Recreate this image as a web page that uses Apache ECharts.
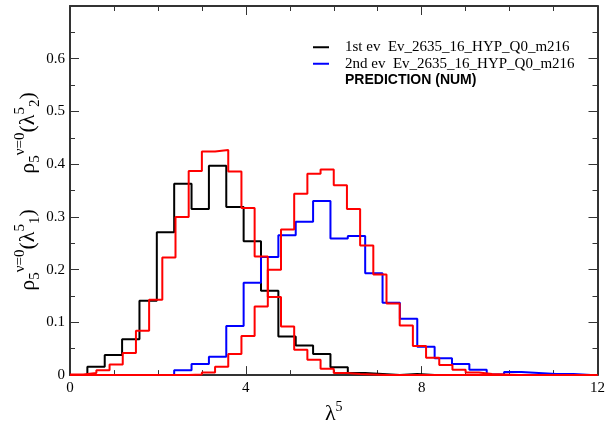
<!DOCTYPE html>
<html>
<head>
<meta charset="utf-8">
<script src="https://cdn.jsdelivr.net/npm/echarts@6/dist/echarts.min.js"></script>
<style>
  html, body { margin: 0; padding: 0; background: #fff; }
  #chart { width: 608px; height: 430px; }
</style>
</head>
<body>
<div id="chart"></div>
<script>
// histogram bin widths (lambda^5 units)
var evBin = 0.395;
var predBin = 0.3;

// 1st eigenvalue, Ev_2635_16_HYP_Q0_m216
var ev1 = [0, 0.016, 0.038, 0.068, 0.141, 0.271, 0.363, 0.315, 0.397, 0.319,
           0.254, 0.160, 0.073, 0.056, 0.040, 0.015, 0.004, 0.002, 0, 0.002,
           0, 0, 0, 0, 0, 0, 0, 0, 0, 0];
// 2nd eigenvalue
var ev2 = [0, 0, 0, 0, 0, 0, 0.009, 0.021, 0.035, 0.093,
           0.175, 0.224, 0.265, 0.291, 0.330, 0.259, 0.264, 0.193, 0.137, 0.107,
           0.054, 0.032, 0.021, 0.010, 0.001, 0.006, 0.004, 0.002, 0.002, 0];
// prediction (num), 1st and 2nd
var pred1 = [0.001, 0.004, 0.009, 0.020, 0.042, 0.084, 0.143, 0.223, 0.300, 0.387,
             0.424, 0.427, 0.386, 0.317, 0.225, 0.148, 0.092, 0.048, 0.029, 0.012,
             0.004, 0.002, 0.001, 0, 0, 0, 0, 0, 0, 0,
             0, 0, 0, 0, 0, 0, 0, 0, 0, 0];
var pred2 = [0, 0, 0, 0, 0, 0, 0, 0, 0, 0.001,
             0.005, 0.016, 0.040, 0.074, 0.130, 0.200, 0.276, 0.344, 0.382, 0.390,
             0.360, 0.315, 0.246, 0.191, 0.136, 0.094, 0.055, 0.033, 0.019, 0.010,
             0.005, 0.002, 0.001, 0, 0, 0, 0, 0, 0, 0];

var name1 = "1st ev  Ev_2635_16_HYP_Q0_m216";
var name2 = "2nd ev  Ev_2635_16_HYP_Q0_m216";
var namePred = "PREDICTION (NUM)";

var serif = "Liberation Serif";

// bin values -> step points (left edges + closing right edge)
function steps(vals, w) {
  var pts = [];
  for (var i = 0; i < vals.length; i++) pts.push([i * w, vals[i]]);
  pts.push([vals.length * w, vals[vals.length - 1]]);
  return pts;
}

function histo(name, vals, w, color) {
  return {
    name: name,
    type: "line",
    step: "end",
    symbol: "none",
    data: steps(vals, w),
    lineStyle: { color: color, width: 2 },
    itemStyle: { color: color }
  };
}

var xBase = {
  min: 0, max: 12, interval: 4,
  axisLine: { onZero: false, lineStyle: { color: "#333", width: 2 } },
  axisTick: { inside: true, length: 9, lineStyle: { color: "#333" } },
  minorTick: { show: true, splitNumber: 4, length: 5, lineStyle: { color: "#333" } },
  splitLine: { show: false }
};
var yBase = {
  min: 0, max: 0.7, interval: 0.1,
  axisLine: { show: true, onZero: false, lineStyle: { color: "#333", width: 2 } },
  axisTick: { show: true, inside: true, length: 9, lineStyle: { color: "#333" } },
  minorTick: { show: true, splitNumber: 2, length: 5, lineStyle: { color: "#333" } },
  splitLine: { show: false }
};

var yLabelRich = {
  r: { fontFamily: serif, fontSize: 22, lineHeight: 30, verticalAlign: "middle", color: "#000" },
  s: { fontFamily: serif, fontSize: 15, lineHeight: 30, verticalAlign: "bottom", color: "#000" },
  p: { fontFamily: serif, fontSize: 15, lineHeight: 30, verticalAlign: "top", color: "#000" }
};

var chart = echarts.init(document.getElementById("chart"));
chart.setOption({
  animation: false,
  backgroundColor: "#fff",
  grid: { left: 70, right: 7, top: 6, bottom: 51 },
  legend: {
    orient: "vertical",
    left: 308, top: 34,
    icon: "rect",
    itemWidth: 16, itemHeight: 2, itemGap: 0,
    selectedMode: false,
    textStyle: { fontFamily: serif, fontSize: 15, lineHeight: 16.5, color: "#000", padding: [0, 0, 0, 11] },
    data: [
      { name: name1 },
      { name: name2 },
      { name: namePred, icon: "none",
        textStyle: { fontFamily: "Liberation Sans", fontWeight: "bold", fontSize: 14 } }
    ]
  },
  xAxis: [
    Object.assign({}, xBase, {
      type: "value", position: "bottom",
      name: "{l|λ}{s|5}", nameLocation: "middle", nameGap: 24,
      nameTextStyle: {
        rich: {
          l: { fontFamily: serif, fontSize: 22, lineHeight: 28, color: "#000" },
          s: { fontFamily: serif, fontSize: 14, lineHeight: 28, verticalAlign: "top", color: "#000" }
        }
      },
      axisLabel: { fontFamily: serif, fontSize: 15, color: "#000", margin: 5 }
    }),
    Object.assign({}, xBase, { type: "value", position: "top", axisLabel: { show: false } })
  ],
  yAxis: [
    Object.assign({}, yBase, {
      type: "value", position: "left",
      axisLabel: { fontFamily: serif, fontSize: 15, color: "#000", margin: 5, showMaxLabel: false }
    }),
    Object.assign({}, yBase, { type: "value", position: "right", axisLabel: { show: false } })
  ],
  graphic: [
    {
      type: "text", x: 28, y: 250, rotation: Math.PI / 2,
      style: {
        text: "{r|ρ}{s|5}{p|ν=0}{r|(λ}{p|5}{s|1}{r|)}",
        align: "center", verticalAlign: "middle", rich: yLabelRich
      }
    },
    {
      type: "text", x: 28, y: 133, rotation: Math.PI / 2,
      style: {
        text: "{r|ρ}{s|5}{p|ν=0}{r|(λ}{p|5}{s|2}{r|)}",
        align: "center", verticalAlign: "middle", rich: yLabelRich
      }
    }
  ],
  series: [
    histo(name1, ev1, evBin, "#000"),
    histo(name2, ev2, evBin, "#0000ff"),
    histo(namePred, pred1, predBin, "#ff0000"),
    histo(namePred, pred2, predBin, "#ff0000")
  ]
});
</script>
</body>
</html>
